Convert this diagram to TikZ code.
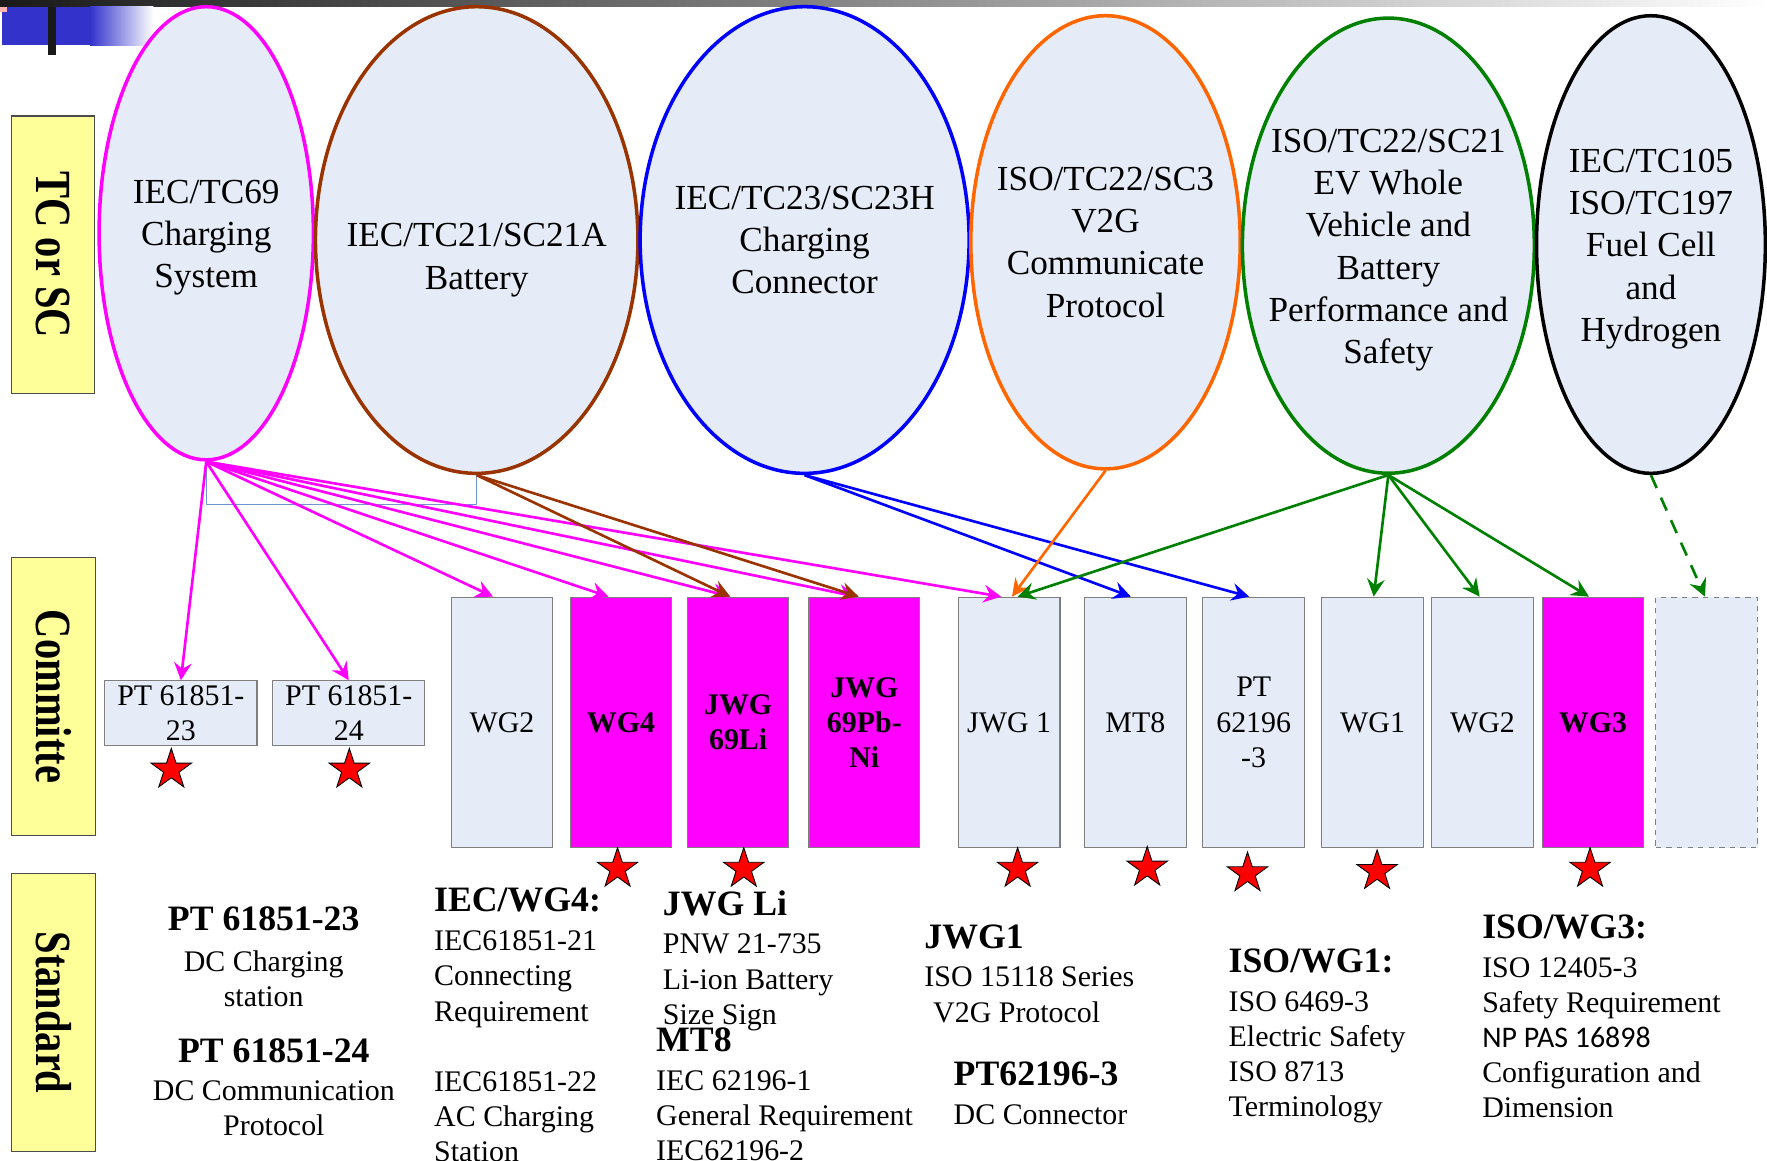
\documentclass[tikz,border=0pt]{standalone}
\usepackage{fontspec}
\setmainfont{Liberation Serif}
\newfontfamily\calibri{Carlito}
\usetikzlibrary{shapes.geometric, arrows.meta, calc}
\definecolor{tcfill}{HTML}{E6ECF7}
\definecolor{myyellow}{HTML}{FFFF99}
\definecolor{mymagenta}{HTML}{FF00FF}
\definecolor{mybrown}{HTML}{993300}
\definecolor{myblue}{HTML}{0000FF}
\definecolor{myorange}{HTML}{FF6600}
\definecolor{mygreen}{HTML}{008000}
\definecolor{framegray}{HTML}{7F7F7F}
\definecolor{linkblue}{HTML}{7094D0}
\definecolor{titleblue}{HTML}{3333CC}
\newcommand{\tagtext}[1]{\scalebox{1}[1.25]{\fontsize{23}{26}\selectfont\bfseries #1}}
\newcommand{\stdhead}[1]{{\fontsize{20.3}{20}\selectfont\bfseries #1}}
\tikzset{
	tcnode/.style={
			ellipse,
			draw=#1,
			fill=tcfill,
			line width=2pt,
			inner sep=0pt
		},
	tctext/.style={
			align=center,
			inner sep=0pt,
			font=\fontsize{20}{24}\selectfont
		},
	tagbox/.style={
			rectangle,
			draw=black!70,
			fill=myyellow,
			line width=0.6pt,
			rotate=-90,
			minimum width=5.54cm,
			minimum height=1.67cm,
			inner sep=0pt
		},
	wgbox/.style={
			rectangle,
			draw=framegray,
			fill=tcfill,
			line width=0.6pt,
			minimum width=2.03cm,
			minimum height=5cm,
			inner sep=0pt,
			align=center,
			font=\fontsize{17}{20}\selectfont
		},
	wghot/.style={
			wgbox,
			fill=mymagenta,
			font=\fontsize{17}{20}\selectfont\bfseries
		},
	wgempty/.style={
			wgbox,
			dashed
		},
	ptbox/.style={
			wgbox,
			minimum width=3.04cm,
			minimum height=1.3cm
		},
	starmark/.style={
			star,
			star points=5,
			star point ratio=2.618,
			draw=black,
			line width=0.5pt,
			fill=red,
			minimum size=0.85cm,
			inner sep=0pt
		},
	link/.style={
			-{Stealth[length=10pt, width=10pt, inset=3.5pt]},
			line width=1.5pt
		},
	stdtext/.style={
			inner sep=0pt,
			align=left,
			anchor=base west,
			font=\fontsize{17}{20}\selectfont
		}
}
\begin{document}
\begin{tikzpicture}[x=0.0225cm, y=-0.0225cm]
\useasboundingbox (0,0) rectangle (1568,1030);

% header strip
\shade[left color=black!90, right color=white] (0,0) rectangle (1568,6);
\fill[titleblue] (2,6) rectangle (80,40);
\shade[left color=titleblue, right color=white] (80,6) rectangle (136,40);
\fill[black!90] (43,6) rectangle (50,49);
\fill[red!30] (0,6) rectangle (6,11);

% row labels
\node[tagbox] (rowtc) at (47,226) {\tagtext{TC or SC}};
\node[tagbox] (rowcom) at (47.5,618) {\tagtext{Committe}};
\node[tagbox] (rowstd) at (47.5,898.5) {\tagtext{Standard}};

% TC / SC
\node[tcnode=mymagenta, minimum width=4.28cm, minimum height=9.05cm] (c1) at (183,207) {};
\node[tcnode=mybrown, minimum width=6.44cm, minimum height=9.32cm] (c2) at (423,213) {};
\node[tcnode=myblue, minimum width=6.57cm, minimum height=9.32cm] (c3) at (714,213) {};
\node[tcnode=myorange, minimum width=5.38cm, minimum height=9.05cm] (c4) at (981,215) {};
\node[tcnode=mygreen, minimum width=5.83cm, minimum height=9.09cm] (c5) at (1232,218) {};
\node[tcnode=black, minimum width=4.57cm, minimum height=9.14cm] (c6) at (1465,217) {};

\node[tctext, yshift=-0.09cm] (t1) at (c1) {IEC/TC69\\Charging\\System};
\node[tctext, yshift=-0.4cm] (t2) at (c2) {IEC/TC21/SC21A\\Battery};
\node[tctext] (t3) at (c3) {IEC/TC23/SC23H\\Charging\\Connector};
\node[tctext] (t4) at (c4) {ISO/TC22/SC3\\V2G\\Communicate\\Protocol};
\node[tctext, yshift=-0.09cm] (t5) at (c5) {ISO/TC22/SC21\\EV Whole\\Vehicle and\\Battery\\Performance and\\Safety};
\node[tctext, yshift=-0.09cm] (t6) at (c6) {IEC/TC105\\ISO/TC197\\Fuel Cell\\and\\Hydrogen};

\coordinate (linkbot) at (0,448);
\draw[linkblue, line width=0.6pt] (c1.south) |- (linkbot -| c2.south) -- (c2.south);

% committees
\node[ptbox] (pt23) at (160.5,633) {PT 61851-\\23};
\node[ptbox] (pt24) at (309.5,633) {PT 61851-\\24};
\node[wgbox] (wg2a) at (445.5,641) {WG2};
\node[wghot] (wg4) at (551,641) {WG4};
\node[wghot] (li) at (655,641) {JWG\\69Li};
\node[wghot, minimum width=2.21cm] (pbni) at (767,641) {JWG\\69Pb-\\Ni};
\node[wgbox] (jwg1) at (895.5,641) {JWG 1};
\node[wgbox] (mt8) at (1007.5,641) {MT8};
\node[wgbox] (pt62196) at (1112.5,641) {PT\\62196\\-3};
\node[wgbox] (wg1) at (1218,641) {WG1};
\node[wgbox] (wg2b) at (1315.5,641) {WG2};
\node[wghot] (wg3) at (1413.5,641) {WG3};
\node[wgempty] (wgnone) at (1514.5,641) {};

% connectors
\draw[link, mymagenta] (c1.south) -- (pt23.north);
\draw[link, mymagenta] (c1.south) -- (pt24.north);
\draw[link, mymagenta] (c1.south) -- ($(wg2a.north)+(-8,0)$);
\draw[link, mymagenta] (c1.south) -- ($(wg4.north)+(-11,0)$);
\draw[link, mymagenta] (c1.south) -- ($(li.north)+(-7,0)$);
\draw[link, mymagenta] (c1.south) -- ($(pbni.north)+(-7,0)$);
\draw[link, mymagenta] (c1.south) -- ($(jwg1.north)+(-7,0)$);
\draw[link, mybrown] (c2.south) -- ($(li.north)+(-7,0)$);
\draw[link, mybrown] (c2.south) -- ($(pbni.north)+(-5,0)$);
\draw[link, myblue] (c3.south) -- ($(mt8.north)+(-4,0)$);
\draw[link, myblue] (c3.south) -- ($(pt62196.north)+(-4,0)$);
\draw[link, myorange] (c4.south) -- ($(jwg1.north)+(2.5,0)$);
\draw[link, mygreen] (c5.south) -- ($(jwg1.north)+(7.5,0)$);
\draw[link, mygreen] (c5.south) -- ($(wg1.north)+(1,0)$);
\draw[link, mygreen] (c5.south) -- ($(wg2b.north)+(-2.5,0)$);
\draw[link, mygreen] (c5.south) -- ($(wg3.north)+(-3.5,0)$);
\draw[link, mygreen, dash pattern=on 8pt off 6pt] (c6.south) -- ($(wgnone.north)+(-1.5,0)$);

% published marks
\node[starmark] (s1) at (152,683) {};
\node[starmark] (s2) at (310,683) {};
\node[starmark] (s3) at (548,771) {};
\node[starmark] (s4) at (660,771) {};
\node[starmark] (s5) at (903,771) {};
\node[starmark] (s6) at (1018,770) {};
\node[starmark] (s7) at (1107,775) {};
\node[starmark] (s8) at (1222,773) {};
\node[starmark] (s9) at (1411,771) {};

% standards (anchored at the base of the last line)
\node[stdtext, align=center, anchor=base] (sta) at (234,893)
  {\stdhead{PT 61851-23}\\[3pt] DC Charging\\ station};
\node[stdtext, align=center, anchor=base] (stb) at (243,1008)
  {\stdhead{PT 61851-24}\\[2pt] DC Communication\\ Protocol};
\node[stdtext] (stc) at (385,1031)
  {\stdhead{IEC/WG4:}\\[2pt] IEC61851-21\\ Connecting\\ Requirement\\[20pt] IEC61851-22\\ AC Charging\\ Station};
\node[stdtext] (std) at (588,909)
  {\stdhead{JWG Li}\\[2pt] PNW 21-735\\ Li-ion Battery\\ Size Sign};
\node[stdtext] (ste) at (582,1030)
  {\stdhead{MT8}\\[2pt] IEC 62196-1\\ General Requirement\\ IEC62196-2};
\node[stdtext] (stf) at (820,907)
  {\stdhead{JWG1}\\[2pt] ISO 15118 Series\\ \hspace*{5pt}V2G Protocol};
\node[stdtext] (stg) at (846,998)
  {\stdhead{PT62196-3}\\[2pt] DC Connector};
\node[stdtext] (sth) at (1090,991)
  {\stdhead{ISO/WG1:}\\[2pt] ISO 6469-3\\ Electric Safety\\ ISO 8713\\ Terminology};
\node[stdtext] (sti) at (1315,992)
  {\stdhead{ISO/WG3:}\\[2pt] ISO 12405-3\\ Safety Requirement\\ {\calibri NP PAS 16898}\\ Configuration and\\ Dimension};

\end{tikzpicture}
\end{document}
